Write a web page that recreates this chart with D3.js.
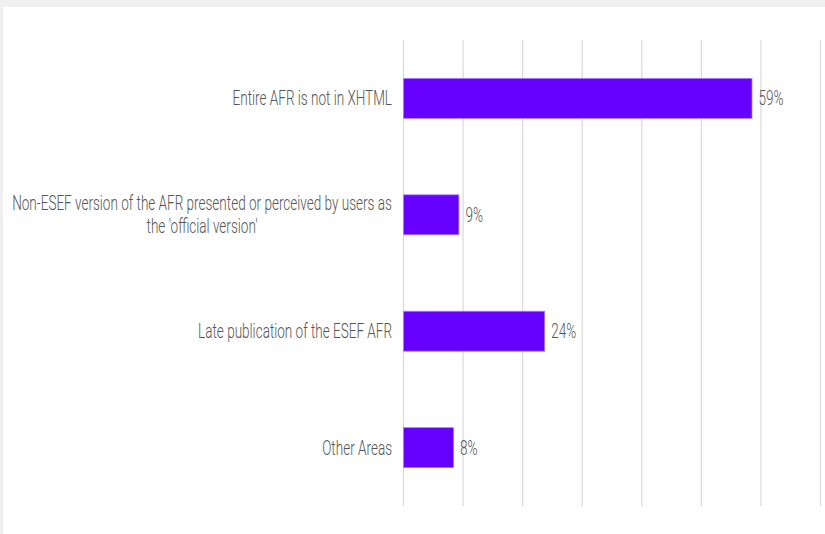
<!DOCTYPE html>
<html><head><meta charset="utf-8">
<script src="https://cdn.jsdelivr.net/npm/d3@7"></script>
<style>
html,body{margin:0;padding:0;background:#f0f0f0;}
svg{display:block;}
text{font-family:"Roboto","Lato",sans-serif;font-weight:300;fill:#555;}
</style></head>
<body>
<svg id="c" width="825" height="534"></svg>
<script>
const categories = ["Entire AFR is not in XHTML",
  "Non-ESEF version of the AFR presented or perceived by users as the 'official version'",
  "Late publication of the ESEF AFR",
  "Other Areas"];
const values = [58.5, 9.3, 23.7, 8.4];
const valueLabels = ["59%", "9%", "24%", "8%"];
const xTicks = [0, 10, 20, 30, 40, 50, 60, 70];

const W = 825, H = 534;
const SX = 0.677; // horizontal condensing of text
const FS = 20;
const svg = d3.select("#c");
svg.append("rect").attr("x", 3).attr("y", 7).attr("width", W - 3).attr("height", H - 7).attr("fill", "#fff");

const m = {left: 403, right: 5, top: 40, bottom: 28};
const x = d3.scaleLinear().domain([0, 70]).range([m.left, W - m.right]);
const y = d3.scaleBand().domain(categories).range([m.top, H - m.bottom]).paddingInner(0.657).paddingOuter(0.33);

const grid = svg.append("g").attr("transform", `translate(0,${H - m.bottom})`)
  .call(d3.axisBottom(x).tickValues(xTicks).tickSize(-(H - m.bottom - m.top)).tickFormat(""));
grid.select(".domain").remove();
grid.selectAll(".tick line").attr("stroke", "#d9d9d9").attr("stroke-width", 1.2);

svg.append("g").selectAll("rect").data(values).join("rect")
  .attr("x", x(0) + 0.5)
  .attr("y", (d, i) => y(categories[i]))
  .attr("width", d => x(d) - x(0))
  .attr("height", y.bandwidth())
  .attr("fill", "#6600ff")
  .attr("stroke", "#a57dff").attr("stroke-width", 0.8);

// value labels
svg.append("g").selectAll("g").data(values).join("g")
  .attr("transform", (d, i) => `translate(${x(d) + 7},${y(categories[i]) + y.bandwidth() / 2}) scale(${SX},1)`)
  .append("text")
  .attr("dy", "0.35em").attr("font-size", FS)
  .text((d, i) => valueLabels[i]);

// category labels with wrapping
const maxW = 385 / SX;
const measurer = svg.append("text").attr("font-size", FS).attr("visibility", "hidden");
function wrap(str) {
  const words = str.split(" ");
  const lines = [];
  let cur = "";
  for (const w of words) {
    const t = cur ? cur + " " + w : w;
    measurer.text(t);
    if (measurer.node().getComputedTextLength() > maxW && cur) { lines.push(cur); cur = w; }
    else cur = t;
  }
  lines.push(cur);
  return lines;
}
const lh = 23;
categories.forEach((c, i) => {
  const lines = wrap(c);
  const cy = y(c) + y.bandwidth() / 2;
  const g = svg.append("g").attr("transform", `translate(${m.left - 11},${cy}) scale(${SX},1)`);
  const t = g.append("text").attr("font-size", FS).attr("text-anchor", lines.length > 1 ? "middle" : "end");
  const off = -(lines.length - 1) * lh / 2;
  if (lines.length > 1) {
    let wmax = 0;
    lines.forEach(l => { measurer.text(l); wmax = Math.max(wmax, measurer.node().getComputedTextLength()); });
    lines.forEach((l, k) => t.append("tspan").attr("x", -wmax / 2).attr("y", off + k * lh).attr("dy", "0.35em").text(l));
  } else {
    t.append("tspan").attr("x", 0).attr("y", 0).attr("dy", "0.35em").text(lines[0]);
  }
});
measurer.remove();
</script>
</body></html>
